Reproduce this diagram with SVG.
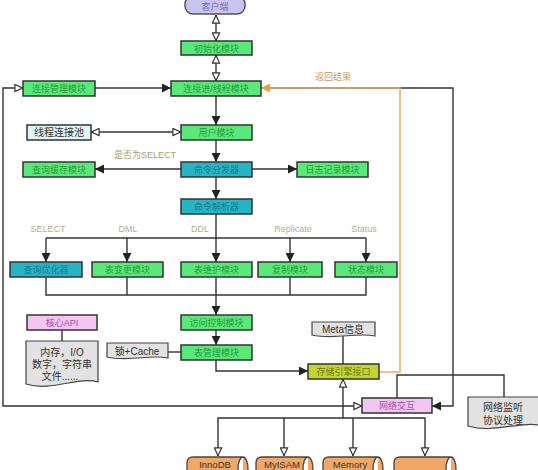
<svg xmlns="http://www.w3.org/2000/svg" width="538" height="470" viewBox="0 0 538 470">
<defs>
<style>
.t{font-family:"Liberation Sans","Noto Sans CJK SC",sans-serif;text-anchor:middle}
.box{stroke:#333;stroke-width:1.5}
.g{fill:#5ae87a}
.gt{fill:#2a9a3a;font-size:9px}
.c{fill:#27b5c5}
.ct{fill:#15798f;font-size:9px}
.p{fill:#f1c6f1}
.pt{fill:#b04cb0;font-size:9px}
.doc{fill:#e2e2e2;stroke:#444;stroke-width:1.2}
.dt{fill:#333;font-size:10px}
.lbl{fill:#b3b08a;font-size:9px}
.ln{fill:none;stroke:#333;stroke-width:1.4}
.cyl{fill:#f1a866;stroke:#444;stroke-width:1.3}
.cyt{fill:#333;font-size:9.5px}
</style>
<marker id="af" viewBox="0 0 10 10" refX="10" refY="5" markerWidth="9" markerHeight="9" markerUnits="userSpaceOnUse" orient="auto-start-reverse"><path d="M0,0 L10,5 L0,10 Z" fill="#222"/></marker>
<marker id="ah" viewBox="0 0 10 10" refX="10" refY="5" markerWidth="9" markerHeight="9" markerUnits="userSpaceOnUse" orient="auto-start-reverse"><path d="M1,1 L9.5,5 L1,9 Z" fill="#fff" stroke="#333" stroke-width="1.3"/></marker>
<marker id="ao" viewBox="0 0 10 10" refX="10" refY="5" markerWidth="9" markerHeight="9" markerUnits="userSpaceOnUse" orient="auto-start-reverse"><path d="M0,0 L10,5 L0,10 Z" fill="#e8a040"/></marker>
</defs>
<rect width="538" height="470" fill="#fff"/>

<g id="connectors">
<path class="ln" d="M216,15 V41" marker-start="url(#ah)" marker-end="url(#ah)"/>
<path class="ln" d="M216,55 V81" marker-start="url(#ah)" marker-end="url(#ah)"/>
<path class="ln" d="M95,88 H171" marker-end="url(#af)"/>
<path class="ln" d="M23,88 H3 V406 H362" marker-start="url(#ah)" marker-end="url(#ah)"/>
<path class="ln" d="M261,88 H453 V406 H432" marker-end="url(#af)"/>
<path fill="none" stroke="#e8b070" stroke-width="1.6" d="M379,372 H400 V88 H261" marker-end="url(#ao)"/>
<path class="ln" d="M216,96 V125" marker-end="url(#af)"/>
<path class="ln" d="M91,132 H181" marker-start="url(#ah)" marker-end="url(#ah)"/>
<path class="ln" d="M216,140 V162" marker-end="url(#af)"/>
<path class="ln" d="M181,169 H95" marker-end="url(#af)"/>
<path class="ln" d="M252,169 H297" marker-end="url(#af)"/>
<path class="ln" d="M216,177 V199" marker-end="url(#af)"/>
<path class="ln" d="M216,214 V262" marker-end="url(#af)"/>
<path class="ln" d="M46,238 H366"/>
<path class="ln" d="M46,238 V262" marker-end="url(#af)"/>
<path class="ln" d="M127,238 V262" marker-end="url(#af)"/>
<path class="ln" d="M290,238 V262" marker-end="url(#af)"/>
<path class="ln" d="M366,238 V262" marker-end="url(#af)"/>
<path class="ln" d="M46,277 V295 H366 V277"/>
<path class="ln" d="M127,277 V295"/>
<path class="ln" d="M290,277 V295"/>
<path class="ln" d="M216,277 V315" marker-end="url(#af)"/>
<path class="ln" d="M216,330 V345" marker-end="url(#af)"/>
<path class="ln" d="M168,352 H181"/>
<path class="ln" d="M216,360 V371 H308" marker-end="url(#af)"/>
<path class="ln" d="M343,336 V364"/>
<path class="ln" d="M62,330 V341"/>
<path class="ln" d="M343,418 V379" marker-end="url(#ah)"/>
<path class="ln" d="M218,456 V418 H425 V456" marker-start="url(#ah)" marker-end="url(#ah)"/>
<path class="ln" d="M284,418 V456" marker-end="url(#ah)"/>
<path class="ln" d="M353,418 V456" marker-end="url(#ah)"/>
<path class="ln" d="M504,398 V375 H397 V398"/>
<text class="t" x="333" y="80" style="fill:#c89a60;font-size:9px">返回结果</text>
<text class="t" x="145" y="158" style="fill:#a8a070;font-size:9px">是否为SELECT</text>
<text class="t lbl" x="48" y="232">SELECT</text>
<text class="t lbl" x="128" y="232">DML</text>
<text class="t lbl" x="200" y="232">DDL</text>
<text class="t lbl" x="293" y="232">Replicate</text>
<text class="t lbl" x="364" y="232">Status</text>
</g>

<g id="n-client"><rect x="185" y="-4" width="60" height="18" rx="8" fill="#c9c3ef" stroke="#555" stroke-width="1.5"/><text class="t" x="215" y="10" style="fill:#7a70b0;font-size:9px">客户端</text></g>
<g id="n-init"><rect class="box g" x="181" y="41" width="71" height="14"/><text class="t gt" x="216.5" y="51.5">初始化模块</text></g>
<g id="n-connthread"><rect class="box g" x="171" y="81" width="90" height="15"/><text class="t gt" x="216" y="92">连接进/线程模块</text></g>
<g id="n-connmgr"><rect class="box g" x="23" y="81" width="72" height="15"/><text class="t gt" x="59" y="92">连接管理模块</text></g>
<g id="n-user"><rect class="box g" x="181" y="125" width="71" height="15"/><text class="t gt" x="216.5" y="136">用户模块</text></g>
<g id="n-pool"><rect x="27" y="125" width="64" height="15" fill="#def5f5" stroke="#333" stroke-width="1.5"/><text class="t" x="59" y="136" style="fill:#333;font-size:10px">线程连接池</text></g>
<g id="n-dispatch"><rect class="box c" x="181" y="162" width="71" height="15"/><text class="t ct" x="216.5" y="173">命令分发器</text></g>
<g id="n-qcache"><rect class="box g" x="23" y="162" width="72" height="15"/><text class="t gt" x="59" y="173">查询缓存模块</text></g>
<g id="n-log"><rect class="box g" x="297" y="162" width="71" height="15"/><text class="t gt" x="332.5" y="173">日志记录模块</text></g>
<g id="n-parser"><rect class="box c" x="181" y="199" width="71" height="15"/><text class="t ct" x="216.5" y="210">命令解析器</text></g>
<g id="n-optimizer"><rect class="box c" x="10" y="262" width="72" height="15"/><text class="t ct" x="46" y="273">查询优化器</text></g>
<g id="n-alter"><rect class="box g" x="92" y="262" width="71" height="15"/><text class="t gt" x="127.5" y="273">表变更模块</text></g>
<g id="n-maint"><rect class="box g" x="181" y="262" width="71" height="15"/><text class="t gt" x="216.5" y="273">表维护模块</text></g>
<g id="n-repl"><rect class="box g" x="258" y="262" width="64" height="15"/><text class="t gt" x="290" y="273">复制模块</text></g>
<g id="n-status"><rect class="box g" x="335" y="262" width="62" height="15"/><text class="t gt" x="366" y="273">状态模块</text></g>
<g id="n-acl"><rect class="box g" x="181" y="315" width="71" height="15"/><text class="t gt" x="216.5" y="326">访问控制模块</text></g>
<g id="n-tblmgr"><rect class="box g" x="181" y="345" width="71" height="15"/><text class="t gt" x="216.5" y="356">表管理模块</text></g>
<g id="n-engine-if"><rect x="308" y="364" width="71" height="15" fill="#c2d431" stroke="#333" stroke-width="1.5"/><text class="t" x="343.5" y="375" style="fill:#6a7a10;font-size:9px">存储引擎接口</text></g>
<g id="n-coreapi"><rect class="box p" x="27" y="315" width="70" height="15"/><text class="t pt" x="62" y="326">核心API</text></g>
<g id="n-net"><rect class="box p" x="362" y="398" width="70" height="15"/><text class="t pt" x="397" y="409">网络交互</text></g>
<g id="n-lock"><path class="doc" d="M107,343 H168 V358 C150,354 130,362 107,357 Z"/><text class="t dt" x="137" y="355">锁+Cache</text></g>
<g id="n-meta"><path class="doc" d="M312,322 H375 V336 C356,332 336,340 312,335 Z"/><text class="t dt" x="343" y="333">Meta信息</text></g>
<g id="n-coredoc"><path class="doc" d="M26,341 H98 V382 C78,376 52,392 26,384 Z"/><text class="t dt" x="62" y="356">内存，I/O</text><text class="t dt" x="62" y="368">数字，字符串</text><text class="t dt" x="60" y="380">文件......</text></g>
<g id="n-listen"><path class="doc" d="M468,397 H545 V426 C520,420 495,434 468,426 Z"/><text class="t dt" x="503" y="411">网络监听</text><text class="t dt" x="503" y="424">协议处理</text></g>
<g id="n-innodb"><path class="cyl" d="M193,457 H243 A5,12 0 0 1 243,481 H193 Q187,481 187,475 V463 Q187,457 193,457 Z M243,457 A5,12 0 0 0 243,481"/><text class="t cyt" x="215" y="468">InnoDB</text></g>
<g id="n-myisam"><path class="cyl" d="M262,457 H308 A5,12 0 0 1 308,481 H262 Q256,481 256,475 V463 Q256,457 262,457 Z M308,457 A5,12 0 0 0 308,481"/><text class="t cyt" x="282" y="468">MyISAM</text></g>
<g id="n-memory"><path class="cyl" d="M329,457 H378 A5,12 0 0 1 378,481 H329 Q323,481 323,475 V463 Q323,457 329,457 Z M378,457 A5,12 0 0 0 378,481"/><text class="t cyt" x="350" y="468">Memory</text></g>
<g id="n-other"><path class="cyl" d="M400,457 H451 A5,12 0 0 1 451,481 H400 Q394,481 394,475 V463 Q394,457 400,457 Z M451,457 A5,12 0 0 0 451,481"/></g>
</svg>
